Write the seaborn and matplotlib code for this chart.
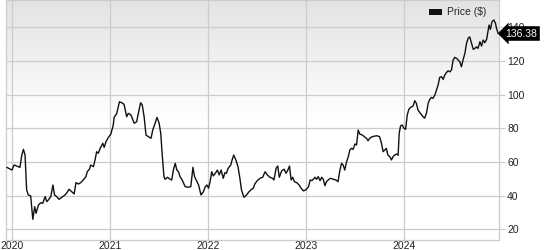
import numpy as np
import pandas as pd
import matplotlib
matplotlib.use("Agg")
import matplotlib.pyplot as plt
from matplotlib.patches import Patch
from matplotlib.colors import LinearSegmentedColormap
import seaborn as sns

dates = [
    "2019-12-12", "2019-12-31", "2020-01-08", "2020-01-24", "2020-01-30", "2020-02-06", "2020-02-12",
    "2020-02-18", "2020-02-24", "2020-03-01", "2020-03-10", "2020-03-18", "2020-03-25", "2020-03-30",
    "2020-04-08", "2020-04-17", "2020-04-24", "2020-05-03", "2020-05-09", "2020-05-15", "2020-05-24",
    "2020-06-01", "2020-06-07", "2020-06-15", "2020-06-24", "2020-07-04", "2020-07-16", "2020-07-23",
    "2020-07-31", "2020-08-10", "2020-08-19", "2020-08-26", "2020-09-04", "2020-09-13", "2020-09-22",
    "2020-10-02", "2020-10-07", "2020-10-15", "2020-10-20", "2020-10-30", "2020-11-05", "2020-11-11",
    "2020-11-17", "2020-11-24", "2020-12-04", "2020-12-09", "2020-12-16", "2020-12-25", "2021-01-03",
    "2021-01-12", "2021-01-15", "2021-01-25", "2021-01-31", "2021-02-04", "2021-02-13", "2021-02-21",
    "2021-03-03", "2021-03-09", "2021-03-19", "2021-03-31", "2021-04-09", "2021-04-18", "2021-04-24",
    "2021-04-30", "2021-05-07", "2021-05-14", "2021-05-23", "2021-06-02", "2021-06-08", "2021-06-17",
    "2021-06-24", "2021-07-02", "2021-07-08", "2021-07-14", "2021-07-20", "2021-07-24", "2021-08-02",
    "2021-08-12", "2021-08-18", "2021-08-24", "2021-08-31", "2021-09-06", "2021-09-12", "2021-09-18",
    "2021-09-27", "2021-10-07", "2021-10-19", "2021-10-28", "2021-11-05", "2021-11-11", "2021-11-20",
    "2021-11-26", "2021-12-05", "2021-12-14", "2021-12-21", "2021-12-27", "2022-01-02", "2022-01-08",
    "2022-01-14", "2022-01-20", "2022-01-29", "2022-02-04", "2022-02-11", "2022-02-18", "2022-02-26",
    "2022-03-04", "2022-03-10", "2022-03-16", "2022-03-26", "2022-03-31", "2022-04-06", "2022-04-14",
    "2022-04-22", "2022-04-29", "2022-05-05", "2022-05-14", "2022-05-24", "2022-06-02", "2022-06-12",
    "2022-06-18", "2022-06-24", "2022-07-03", "2022-07-13", "2022-07-23", "2022-08-01", "2022-08-09",
    "2022-08-19", "2022-08-29", "2022-09-03", "2022-09-11", "2022-09-17", "2022-09-23", "2022-10-02",
    "2022-10-11", "2022-10-18", "2022-10-25", "2022-10-31", "2022-11-06", "2022-11-12", "2022-11-18",
    "2022-11-27", "2022-12-06", "2022-12-13", "2022-12-22", "2022-12-31", "2023-01-10", "2023-01-16",
    "2023-01-22", "2023-01-28", "2023-02-03", "2023-02-09", "2023-02-15", "2023-02-22", "2023-02-28",
    "2023-03-06", "2023-03-12", "2023-03-18", "2023-03-27", "2023-04-03", "2023-04-12", "2023-04-22",
    "2023-04-30", "2023-05-07", "2023-05-13", "2023-05-19", "2023-05-25", "2023-06-01", "2023-06-07",
    "2023-06-13", "2023-06-19", "2023-06-25", "2023-07-02", "2023-07-08", "2023-07-14", "2023-07-20",
    "2023-07-30", "2023-08-08", "2023-08-14", "2023-08-20", "2023-08-26", "2023-09-04", "2023-09-14",
    "2023-09-22", "2023-10-02", "2023-10-09", "2023-10-15", "2023-10-21", "2023-10-27", "2023-11-02",
    "2023-11-09", "2023-11-15", "2023-11-21", "2023-11-27", "2023-12-04", "2023-12-10", "2023-12-14",
    "2023-12-19", "2023-12-25", "2024-01-01", "2024-01-07", "2024-01-13", "2024-01-19", "2024-01-26",
    "2024-02-04", "2024-02-10", "2024-02-16", "2024-02-22", "2024-03-02", "2024-03-12", "2024-03-18",
    "2024-03-25", "2024-03-31", "2024-04-06", "2024-04-12", "2024-04-18", "2024-04-25", "2024-05-01",
    "2024-05-07", "2024-05-13", "2024-05-20", "2024-05-26", "2024-06-01", "2024-06-07", "2024-06-13",
    "2024-06-20", "2024-06-26", "2024-07-02", "2024-07-08", "2024-07-15", "2024-07-21", "2024-07-27",
    "2024-08-02", "2024-08-08", "2024-08-15", "2024-08-21", "2024-08-27", "2024-09-02", "2024-09-09",
    "2024-09-15", "2024-09-21", "2024-09-27", "2024-10-03", "2024-10-10", "2024-10-16", "2024-10-22",
    "2024-10-28", "2024-11-04", "2024-11-10", "2024-11-13", "2024-11-18", "2024-11-24", "2024-12-01",
    "2024-12-07", "2024-12-11", "2024-12-17",
]

prices = [
    56.8, 55.2, 58.2, 57.2, 56.8, 64.1, 67.5,
    64.1, 43.4, 40.4, 39.8, 25.9, 33.4, 29.5,
    34.4, 35.8, 35.4, 39.4, 36.4, 37.4, 39.4,
    46.3, 40.4, 39.4, 37.8, 39.0, 40.4, 41.7,
    43.8, 42.3, 41.0, 47.7, 46.9, 47.7, 49.3,
    51.3, 54.2, 55.7, 58.2, 57.2, 61.2, 66.1,
    65.2, 68.1, 71.1, 68.7, 72.1, 74.7, 76.6,
    82.0, 86.5, 88.9, 92.9, 95.8, 95.2, 94.3,
    86.9, 88.9, 87.9, 83.0, 83.9, 90.9, 95.2,
    93.9, 86.9, 76.0, 75.0, 74.1, 79.0, 83.0,
    86.5, 83.0, 77.0, 63.1, 51.3, 49.7, 50.9,
    49.7, 49.3, 55.2, 59.2, 55.2, 54.2, 51.3,
    48.9, 45.3, 45.0, 45.3, 56.8, 51.3, 48.3,
    46.3, 40.4, 42.3, 45.3, 46.3, 44.4, 48.3,
    54.2, 51.7, 53.6, 55.2, 52.3, 55.2, 50.3,
    53.6, 53.3, 56.2, 58.2, 61.2, 64.1, 61.2,
    57.2, 50.3, 43.4, 39.0, 40.4, 42.3, 43.8,
    44.4, 47.0, 48.9, 50.3, 50.9, 54.2, 52.3,
    50.9, 50.3, 49.3, 56.2, 57.6, 50.9, 54.8,
    55.7, 53.3, 55.2, 57.6, 49.3, 50.9, 48.3,
    47.7, 46.3, 44.4, 42.8, 43.4, 45.3, 49.3,
    48.9, 49.7, 50.9, 49.7, 51.3, 48.9, 50.9,
    49.7, 45.9, 48.3, 49.7, 50.3, 49.7, 49.3,
    48.3, 55.2, 59.2, 58.2, 55.2, 60.2, 63.1,
    67.1, 68.1, 67.5, 70.7, 70.1, 79.0, 76.6,
    76.0, 74.7, 74.1, 72.6, 74.1, 75.0, 75.4,
    75.6, 75.0, 71.1, 66.1, 67.1, 68.1, 64.1,
    63.1, 61.2, 63.1, 64.1, 64.7, 64.0, 77.0,
    81.4, 82.0, 80.0, 79.4, 87.9, 91.3, 92.5,
    93.3, 96.4, 94.9, 90.9, 88.9, 86.9, 86.0,
    89.3, 94.9, 97.2, 98.4, 97.8, 99.8, 102.8,
    105.7, 110.3, 110.7, 109.1, 111.7, 113.1, 114.2,
    113.6, 114.7, 120.6, 122.2, 121.6, 120.6, 119.6,
    116.6, 120.6, 124.6, 130.5, 133.5, 134.4, 130.5,
    127.0, 127.5, 128.5, 127.5, 131.5, 128.9, 132.5,
    130.9, 132.9, 138.8, 141.4, 138.8, 143.4, 144.4,
    142.4, 139.4, 136.38,
]

y_ticks = [20, 40, 60, 80, 100, 120, 140]
x_tick_years = ["2020", "2021", "2022", "2023", "2024"]
series_name = "Price ($)"
last_label = "136.38"

df = pd.DataFrame({"date": pd.to_datetime(dates), "price": prices})

sns.set_theme(style="white")
plt.rcParams["font.family"] = ["Liberation Sans", "DejaVu Sans"]

fig = plt.figure(figsize=(5.44, 2.5), dpi=100)
ax = fig.add_axes([6 / 544, 10 / 250, (498.7 - 6) / 544, 240 / 250])

# gradient background
grad = np.linspace(0, 1, 256).reshape(-1, 1)
cmap = LinearSegmentedColormap.from_list("bg", ["#ffffff", "#ffffff", "#e3e3e3"])
ax.imshow(grad, extent=[0, 1, 0, 1], transform=ax.transAxes, origin="lower",
          cmap=cmap, aspect="auto", zorder=0)

sns.lineplot(data=df, x="date", y="price", ax=ax, color="#111111", linewidth=1.0,
             zorder=3, legend=False)

ax.set_xlim(pd.Timestamp("2019-12-09"), pd.Timestamp("2024-12-19"))
ax.set_ylim(13.6, 156.3)

ax.set_xticks(pd.to_datetime([f"{y}-01-01" for y in x_tick_years]))
ax.set_xticklabels(x_tick_years)
ax.set_yticks(y_ticks)
ax.set_yticklabels([str(v) for v in y_ticks])
ax.yaxis.tick_right()
ax.tick_params(axis="y", which="both", right=True, left=False, length=4, width=0.8,
               color="#c8c8c8", pad=2, labelsize=7.5, labelcolor="#222222")
ax.tick_params(axis="x", bottom=False, length=0, pad=0.5, labelsize=7.5, labelcolor="#222222")
ax.grid(True, color="#cccccc", linewidth=0.9, zorder=1)
ax.set_axisbelow(True)
for s in ax.spines.values():
    s.set_color("#cccccc")
    s.set_linewidth(0.9)
ax.set_xlabel("")
ax.set_ylabel("")

# legend
handle = Patch(facecolor="#111111", edgecolor="none")
ax.legend([handle], [series_name], loc="upper right", bbox_to_anchor=(0.99, 1.0),
          frameon=False, fontsize=7.5, handlelength=1.2, handleheight=0.5,
          handletextpad=0.5, borderaxespad=0.3)

# last-value badge
ax.annotate(last_label, xy=(1.0, prices[-1]), xycoords=("axes fraction", "data"),
            xytext=(5, 0), textcoords="offset points", ha="left", va="center",
            fontsize=7.5, color="white", zorder=10, annotation_clip=False,
            bbox=dict(boxstyle="larrow,pad=0.22", fc="black", ec="none"))

fig.savefig("out.png", dpi=100)
